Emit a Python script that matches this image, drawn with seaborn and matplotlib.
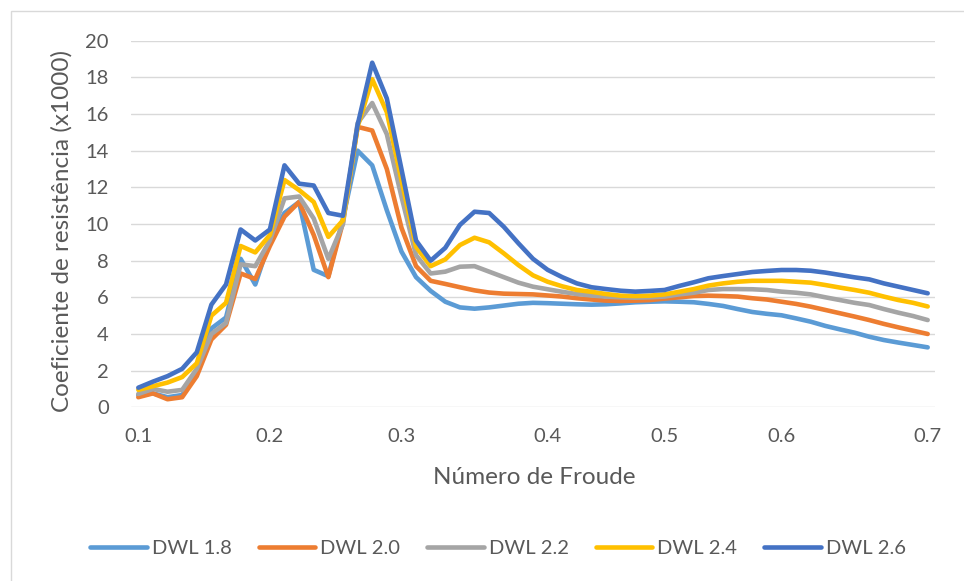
import matplotlib
matplotlib.use("Agg")
import matplotlib.pyplot as plt
from matplotlib.patches import Rectangle
import numpy as np
import pandas as pd
import seaborn as sns

# Resistance coefficient (x1000) per Froude-number category, one list per waterline
dwl_18 = [0.67, 0.76, 0.55, 0.67, 1.85, 4.3, 4.9, 8.1, 6.7, 9.1,
          10.6, 11.2, 7.5, 7.15, 10.3, 14.0, 13.2, 10.75, 8.5, 7.1,
          6.35, 5.76, 5.45, 5.38, 5.45, 5.55, 5.65, 5.7, 5.68, 5.65,
          5.62, 5.6, 5.62, 5.67, 5.73, 5.76, 5.78, 5.76, 5.73, 5.64,
          5.53, 5.36, 5.2, 5.1, 5.02, 4.85, 4.67, 4.44, 4.25, 4.07,
          3.85, 3.67, 3.53, 3.4, 3.27]
dwl_20 = [0.55, 0.76, 0.44, 0.55, 1.7, 3.7, 4.5, 7.3, 7.0, 8.8,
          10.4, 11.2, 9.4, 7.1, 10.1, 15.3, 15.1, 13.0, 9.8, 7.7,
          6.9, 6.73, 6.55, 6.38, 6.26, 6.2, 6.18, 6.16, 6.1, 6.04,
          5.95, 5.88, 5.82, 5.8, 5.82, 5.85, 5.93, 6.0, 6.07, 6.09,
          6.07, 6.04, 5.95, 5.88, 5.76, 5.64, 5.49, 5.31, 5.13, 4.95,
          4.76, 4.55, 4.36, 4.18, 4.0]
dwl_22 = [0.73, 1.0, 0.85, 0.95, 2.1, 4.0, 4.6, 7.8, 7.7, 9.1,
          11.4, 11.5, 10.3, 8.1, 10.0, 15.5, 16.6, 14.9, 11.5, 8.3,
          7.3, 7.4, 7.67, 7.7, 7.4, 7.1, 6.8, 6.58, 6.44, 6.3,
          6.18, 6.1, 6.04, 6.0, 5.98, 6.0, 6.04, 6.16, 6.25, 6.4,
          6.45, 6.45, 6.44, 6.4, 6.31, 6.25, 6.16, 6.0, 5.85, 5.7,
          5.58, 5.36, 5.16, 4.98, 4.76]
dwl_24 = [0.95, 1.15, 1.35, 1.65, 2.4, 5.0, 5.7, 8.8, 8.45, 9.4,
          12.4, 11.85, 11.2, 9.3, 10.2, 15.3, 17.9, 16.1, 12.4, 8.75,
          7.7, 8.07, 8.85, 9.25, 9.0, 8.4, 7.76, 7.2, 6.85, 6.6,
          6.4, 6.3, 6.18, 6.09, 6.07, 6.09, 6.16, 6.3, 6.45, 6.64,
          6.76, 6.85, 6.9, 6.9, 6.9, 6.85, 6.8, 6.67, 6.53, 6.4,
          6.25, 6.04, 5.85, 5.7, 5.5]
dwl_26 = [1.07, 1.4, 1.7, 2.1, 3.0, 5.6, 6.7, 9.7, 9.1, 9.7,
          13.2, 12.2, 12.1, 10.6, 10.45, 15.4, 18.8, 16.85, 13.0, 9.1,
          8.0, 8.7, 9.95, 10.67, 10.6, 9.85, 8.95, 8.1, 7.5, 7.1,
          6.76, 6.55, 6.45, 6.36, 6.31, 6.35, 6.4, 6.62, 6.82, 7.04,
          7.16, 7.27, 7.38, 7.44, 7.49, 7.49, 7.45, 7.35, 7.22, 7.09,
          6.98, 6.76, 6.58, 6.4, 6.22]

series_names = ["DWL 1.8", "DWL 2.0", "DWL 2.2", "DWL 2.4", "DWL 2.6"]
series_colors = ["#5B9BD5", "#ED7D31", "#A5A5A5", "#FFC000", "#4472C4"]

# Labelled categories on the Froude-number axis
label_category = [0, 9, 18, 28, 36, 44, 54]
label_text = ["0.1", "0.2", "0.3", "0.4", "0.5", "0.6", "0.7"]
y_ticks = [0, 2, 4, 6, 8, 10, 12, 14, 16, 18, 20]

frames = []
for name, vals in zip(series_names, [dwl_18, dwl_20, dwl_22, dwl_24, dwl_26]):
    frames.append(pd.DataFrame({"categoria": np.arange(len(vals)),
                                "coef": vals, "serie": name}))
df = pd.concat(frames, ignore_index=True)

sns.set_theme(style="white")
plt.rcParams["font.family"] = ["Lato", "DejaVu Sans"]
text_color = "#595959"
grid_color = "#D9D9D9"

fig = plt.figure(figsize=(9.64, 5.81), dpi=100)
ax = fig.add_axes([131 / 964, 1 - 407.3 / 581, 804 / 964, 366.6 / 581])

sns.lineplot(data=df, x="categoria", y="coef", hue="serie",
             hue_order=series_names, palette=series_colors,
             linewidth=3.3, ax=ax, legend=True, sort=False)
for ln in ax.lines:
    ln.set_solid_capstyle("round")
    ln.set_solid_joinstyle("round")

n_cat = len(dwl_18)
ax.set_xlim(-0.5, n_cat - 0.5)
ax.set_ylim(0, 20)
ax.set_yticks(y_ticks)
ax.set_xticks(label_category)
ax.set_xticklabels(label_text)
ax.yaxis.grid(True, color=grid_color, linewidth=1.0)
ax.xaxis.grid(False)
ax.set_axisbelow(True)
for s in ax.spines.values():
    s.set_visible(False)
ax.tick_params(axis="both", length=0, labelsize=14.5, labelcolor=text_color)
ax.tick_params(axis="y", pad=16)
ax.tick_params(axis="x", pad=15)
ax.set_xlabel("")
ax.set_ylabel("")

fig.text(62 / 964, 1 - 231 / 581, "Coeficiente de resistência (x1000)",
         rotation=90, ha="center", va="center", fontsize=17.5, color=text_color)
fig.text(534 / 964, 1 - 478 / 581, "Número de Froude",
         ha="center", va="center", fontsize=17.5, color=text_color)

handles, labels = ax.get_legend_handles_labels()
ax.get_legend().remove()
leg = fig.legend(handles, labels, loc="center", ncol=5,
                 bbox_to_anchor=(498 / 964, 1 - 548 / 581),
                 frameon=False, fontsize=14.5, handlelength=2.8,
                 handletextpad=0.25, columnspacing=1.35)
for t in leg.get_texts():
    t.set_color(text_color)
for h in leg.get_lines():
    h.set_linewidth(3.3)
    h.set_solid_capstyle("round")

# chart-area frame
fig.add_artist(Rectangle((11 / 964, -0.1), 1.2, 1 - 11 / 581 + 0.1,
                         transform=fig.transFigure, fill=False,
                         edgecolor=grid_color, linewidth=1.0))

fig.savefig("out.png", dpi=100)
